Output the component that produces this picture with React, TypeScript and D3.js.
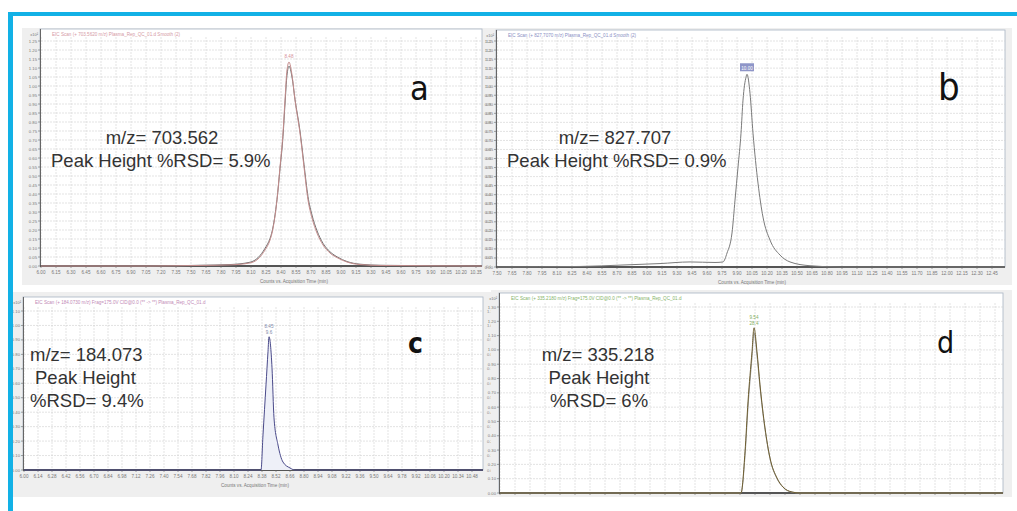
import * as d3 from "d3";

// retention time (min) and counts (x10^5)
const timeA = [6.0, 7.09, 7.59, 7.89, 8.09, 8.17, 8.24, 8.29, 8.31, 8.36, 8.39, 8.42, 8.44, 8.46, 8.48, 8.51, 8.54, 8.59, 8.63, 8.67, 8.71, 8.76, 8.82, 8.89, 8.97, 9.06, 9.19, 9.39, 10.41];
const countsA1 = [0, 0, 0.003, 0.006, 0.017, 0.039, 0.089, 0.144, 0.183, 0.367, 0.55, 0.739, 0.922, 1.089, 1.133, 1.061, 0.922, 0.739, 0.55, 0.367, 0.267, 0.183, 0.117, 0.072, 0.044, 0.022, 0.008, 0.003, 0];
const countsA2 = [0, 0, 0.004, 0.008, 0.021, 0.046, 0.098, 0.153, 0.19, 0.37, 0.54, 0.72, 0.9, 1.06, 1.11, 1.05, 0.925, 0.75, 0.565, 0.385, 0.283, 0.196, 0.126, 0.079, 0.048, 0.025, 0.01, 0.004, 0];

const timeB = [7.5, 8.33, 8.76, 9.13, 9.43, 9.68, 9.76, 9.8, 9.85, 9.88, 9.91, 9.94, 9.96, 9.99, 10.0, 10.03, 10.06, 10.11, 10.16, 10.23, 10.33, 10.43, 10.63, 10.93, 12.58];
const countsB = [0, 0.003, 0.011, 0.019, 0.028, 0.025, 0.028, 0.077, 0.188, 0.37, 0.552, 0.74, 0.923, 1.05, 1.066, 0.961, 0.74, 0.464, 0.276, 0.149, 0.066, 0.028, 0.007, 0, 0];

const timeC = [6.0, 8.37, 8.39, 8.42, 8.44, 8.45, 8.48, 8.5, 8.54, 8.59, 8.66, 8.71, 10.59];
const countsC = [0, 0, 0.243, 0.589, 0.818, 0.922, 0.707, 0.361, 0.173, 0.055, 0.014, 0, 0];

const timeD = [7.0, 9.41, 9.45, 9.48, 9.52, 9.54, 9.57, 9.6, 9.65, 9.7, 9.77, 9.83, 9.92, 10.0, 12.03];
const countsD1 = [0, 0, 0.287, 0.637, 0.987, 1.155, 0.987, 0.756, 0.455, 0.245, 0.105, 0.042, 0.007, 0, 0];
const countsD2 = [0, 0, 0.26, 0.6, 0.95, 1.12, 0.96, 0.74, 0.445, 0.24, 0.1, 0.04, 0.006, 0, 0];

const mzValues = ["703.562", "827.707", "184.073", "335.218"];
const rsdValues = ["5.9%", "0.9%", "9.4%", "6%"];
const panelLetters = ["a", "b", "c", "d"];
const traceTitles = [
  "EIC Scan (+ 703.5620 m/z) Plasma_Rep_QC_01.d  Smooth (2)",
  "EIC Scan (+ 827.7070 m/z) Plasma_Rep_QC_01.d  Smooth (2)",
  "EIC Scan (+ 184.0730 m/z) Frag=175.0V CID@0.0 (** -> **) Plasma_Rep_QC_01.d",
  "EIC Scan (+ 335.2180 m/z) Frag=175.0V CID@0.0 (** -> **) Plasma_Rep_QC_01.d",
];
const peakNotes = ["", "", "9.6", "28.4"];
const axisTitle = "Counts vs. Acquisition Time (min)";

const series = [
  { time: timeA, counts: [countsA2, countsA1] },
  { time: timeB, counts: [countsB] },
  { time: timeC, counts: [countsC] },
  { time: timeD, counts: [countsD2, countsD1] },
];

const layouts = [
  {
    bg: [22, 28, 469, 257], frame: [40, 29, 442, 237], top: 41,
    xDomain: [6.0, 10.41], xStep: 0.15, yMax: 1.25, yStep: 0.05,
    xLabels: true, rightLabels: true, axisTitleX: 294,
    titleColor: "#d59aa5", lineColors: ["#6f6f6f", "#c48c8c"], fill: null,
    note: "#d58f9a", noteBox: null,
    lines: [
      { k: "mz", x: 162, y: 144, anchor: "middle" },
      { k: "both", x: 51, y: 167, anchor: "start" },
    ],
    letter: { x: 410, y: 100, size: 34, weight: 400 },
  },
  {
    bg: [491, 28, 521, 257], frame: [496, 30, 509, 237], top: 41,
    xDomain: [7.5, 12.58], xStep: 0.15, yMax: 1.25, yStep: 0.05,
    xLabels: true, rightLabels: false, axisTitleX: 752,
    titleColor: "#8a8fc4", lineColors: ["#7a7a7a"], fill: null,
    note: "#ffffff", noteBox: "#8e95c8",
    lines: [
      { k: "mz", x: 615, y: 144, anchor: "middle" },
      { k: "both", x: 507, y: 167, anchor: "start" },
    ],
    letter: { x: 938, y: 100, size: 38, weight: 400 },
  },
  {
    bg: [13, 292, 478, 205], frame: [23, 297, 460, 173], top: 311,
    xDomain: [6.0, 10.59], xStep: 0.14, yMax: 1.1, yStep: 0.1,
    xLabels: true, rightLabels: true, axisTitleX: 255,
    titleColor: "#c28ab6", lineColors: ["#4a4a8a"], fill: "#eef0f8",
    note: "#8088a8", noteBox: null,
    lines: [
      { k: "mz", x: 30, y: 361, anchor: "start" },
      { k: "ph", x: 35, y: 384, anchor: "start" },
      { k: "rsd", x: 30, y: 407, anchor: "start" },
    ],
    letter: { x: 408, y: 353, size: 28, weight: 700 },
  },
  {
    bg: [491, 290, 521, 207], frame: [499, 293, 504, 200], top: 307,
    xDomain: [7.0, 12.03], xStep: 0.15, yMax: 1.3, yStep: 0.1,
    xLabels: false, rightLabels: false, axisTitleX: 751,
    titleColor: "#86b36a", lineColors: ["#9a9a9a", "#6e5e30"], fill: null,
    note: "#7fae62", noteBox: null,
    lines: [
      { k: "mz", x: 598, y: 361, anchor: "middle" },
      { k: "ph", x: 599, y: 384, anchor: "middle" },
      { k: "rsd", x: 599, y: 407, anchor: "middle" },
    ],
    letter: { x: 937, y: 353, size: 30, weight: 400 },
  },
];

const textFont = "'Liberation Sans', Arial, sans-serif";
const letterFont = "'DejaVu Sans Condensed', Roboto, sans-serif";

function Panel({ i }: { i: number }) {
  const L = layouts[i];
  const S = series[i];
  const [bx, by, bw, bh] = L.bg;
  const [fx, fy, fw, fh] = L.frame;
  const bottom = fy + fh;

  const x = d3.scaleLinear().domain(L.xDomain).range([fx + 1, fx + fw]);
  const y = d3.scaleLinear().domain([0, L.yMax]).range([bottom, L.top]);

  const xTicks = d3.range(L.xDomain[0], L.xDomain[1] + 1e-9, L.xStep);
  const yTicks = d3.range(0, L.yMax + 1e-9, L.yStep);

  const line = d3.line<number>()
    .x((_, j) => x(S.time[j]))
    .y((d) => y(d))
    .curve(d3.curveMonotoneX);
  const area = d3.area<number>()
    .x((_, j) => x(S.time[j]))
    .y0(bottom)
    .y1((d) => y(d))
    .curve(d3.curveMonotoneX);

  const main = S.counts[S.counts.length - 1];
  const apex = d3.maxIndex(main);
  const ax = x(S.time[apex]);
  const ay = y(main[apex]);

  const textOf = (k: string) => {
    if (k === "mz") return `m/z= ${mzValues[i]}`;
    if (k === "ph") return "Peak Height";
    if (k === "rsd") return `%RSD= ${rsdValues[i]}`;
    return `Peak Height %RSD= ${rsdValues[i]}`;
  };

  return (
    <g>
      <rect x={bx} y={by} width={bw} height={bh} fill="#efefef" />
      <rect x={fx} y={fy} width={fw} height={fh} fill="#ffffff" stroke="#a9b4c4" strokeWidth={0.8} />

      {/* grid */}
      {xTicks.map((t, j) => (
        <line key={"gx" + j} x1={x(t)} x2={x(t)} y1={L.top - 4} y2={bottom}
          stroke="#d0d0d0" strokeWidth={0.6} strokeDasharray="2 1" />
      ))}
      {yTicks.map((t, j) => (
        <line key={"gy" + j} x1={fx + 1} x2={fx + fw} y1={y(t)} y2={y(t)}
          stroke="#d0d0d0" strokeWidth={0.6} strokeDasharray="2 1" />
      ))}

      {/* trace title */}
      <text x={fx + 12} y={fy + 7} fontSize={4.6} fill={L.titleColor} fontFamily={textFont}>
        {traceTitles[i]}
      </text>
      <text x={fx - 2} y={fy + 7} fontSize={4} fill="#777" textAnchor="end" fontFamily={textFont}>x10²</text>

      {/* left axis */}
      <line x1={fx + 0.5} x2={fx + 0.5} y1={fy} y2={bottom} stroke="#666" strokeWidth={1} />
      {yTicks.map((t, j) => (
        <g key={"yl" + j}>
          <line x1={fx - 2} x2={fx} y1={y(t)} y2={y(t)} stroke="#666" strokeWidth={0.6} />
          <text x={fx - 3} y={y(t) + 1.5} fontSize={4.2} fill="#777" textAnchor="end" fontFamily={textFont}>
            {d3.format(".2f")(t)}
          </text>
          {L.rightLabels && (
            <text x={fx + fw + 4} y={y(t) + 1.5} fontSize={4.2} fill="#888" fontFamily={textFont}>
              {d3.format(".2f")(t)}
            </text>
          )}
        </g>
      ))}

      {/* bottom axis */}
      <line x1={fx} x2={fx + fw} y1={bottom} y2={bottom} stroke="#555" strokeWidth={2} />
      {xTicks.map((t, j) => (
        <g key={"xl" + j}>
          <line x1={x(t)} x2={x(t)} y1={bottom} y2={bottom + 2} stroke="#666" strokeWidth={0.6} />
          {L.xLabels && (
            <text x={x(t)} y={bottom + 8} fontSize={4.6} fill="#777" textAnchor="middle" fontFamily={textFont}>
              {d3.format(".2f")(t)}
            </text>
          )}
        </g>
      ))}
      {L.xLabels && (
        <text x={L.axisTitleX} y={bottom + 16.5} fontSize={4.6} fill="#777" textAnchor="middle" fontFamily={textFont}>
          {axisTitle}
        </text>
      )}

      {/* traces */}
      {L.fill && <path d={area(main) || ""} fill={L.fill} />}
      {S.counts.map((c, j) => (
        <path key={"ln" + j} d={line(c) || ""} fill="none" stroke={L.lineColors[j]} strokeWidth={1} />
      ))}

      {/* apex label */}
      {L.noteBox && <rect x={ax - 7} y={ay - 11} width={14} height={8} fill={L.noteBox} />}
      <text x={ax} y={ay - (peakNotes[i] ? 9 : 4.5)} fontSize={4.6} fill={L.note} textAnchor="middle" fontFamily={textFont}>
        {d3.format(".2f")(S.time[apex])}
      </text>
      {peakNotes[i] && (
        <text x={ax} y={ay - 3} fontSize={4.6} fill={L.note} textAnchor="middle" fontFamily={textFont}>
          {peakNotes[i]}
        </text>
      )}

      {/* annotation */}
      {L.lines.map((ln, j) => (
        <text key={"t" + j} x={ln.x} y={ln.y} fontSize={18.5} fill="#333" textAnchor={ln.anchor}
          fontFamily={textFont}>
          {textOf(ln.k)}
        </text>
      ))}
      <text x={L.letter.x} y={L.letter.y} fontSize={L.letter.size} fontWeight={L.letter.weight}
        fill="#111" fontFamily={letterFont}>
        {panelLetters[i]}
      </text>
    </g>
  );
}

export default function App() {
  return (
    <div style={{ position: "absolute", left: 0, top: 0 }}>
      <svg width={1017} height={511} style={{ display: "block", background: "#ffffff" }}>
        {layouts.map((_, i) => <Panel key={i} i={i} />)}
        {/* blue frame */}
        <rect x={8} y={12} width={1009} height={4} fill="#12b1e6" />
        <rect x={8} y={12} width={5} height={499} fill="#12b1e6" />
      </svg>
    </div>
  );
}
